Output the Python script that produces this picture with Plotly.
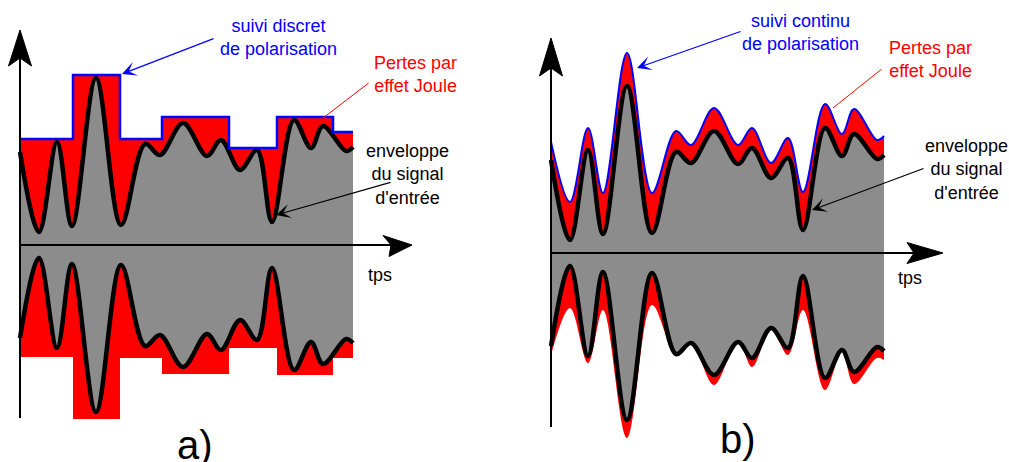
import plotly.graph_objects as go

# enveloppe du signal d'entree (meme allure pour a) et b))
t_env = [0, 1.9, 3.7, 5.2, 7.6, 10.1, 12.5, 14.0, 16.3, 18.7, 20.1, 22.0, 23.7, 25.2, 27.4, 29.1, 30.3, 32.6, 33.3]
enveloppe = [9.3, 1.3, 10.3, 1.9, 16.7, 2.0, 10.1, 9.0, 12.2, 8.9, 10.5, 7.5, 9.5, 2.3, 12.5, 9.7, 11.9, 9.4, 9.8]

# a) suivi discret de polarisation (paliers)
t_paliers = [0, 5.3, 10.0, 14.2, 20.9, 25.7, 31.3, 33.3]
paliers_haut = [10.6, 17.0, 10.6, 12.8, 9.7, 12.8, 11.3, 11.3]
paliers_bas = [11.2, 17.4, 11.3, 12.9, 10.3, 13.0, 11.3, 11.3]

# b) suivi continu de polarisation
polar_haut = [11.1, 5.1, 12.5, 6.0, 20.0, 6.0, 12.2, 10.8, 14.5, 10.8, 12.5, 9.0, 11.5, 6.1, 14.9, 11.9, 14.4, 11.3, 11.7]
polar_bas = [10.2, 5.5, 11.0, 5.7, 18.5, 5.2, 10.1, 9.0, 13.2, 8.7, 11.4, 7.7, 10.2, 5.7, 13.7, 9.9, 13.1, 10.5, 10.7]

ROUGE = "#ff0000"
BLEU = "#0000ff"
GRIS = "#8c8c8c"
FONT = "Liberation Sans, Arial, sans-serif"

fig = go.Figure()


def trace(x, y, xa, ya, shape="spline", width=0, color="black", fill=None, fillcolor=None):
    fig.add_trace(go.Scatter(
        x=x, y=y, xaxis=xa, yaxis=ya, mode="lines",
        line=dict(shape=shape, width=width, color=color, smoothing=1.0),
        fill=fill, fillcolor=fillcolor, showlegend=False, hoverinfo="skip",
    ))


moins_env = [-v for v in enveloppe]

# --- panneau a)
trace(t_paliers, [-v for v in paliers_bas], "x", "y", shape="hv")
trace(t_paliers, paliers_haut, "x", "y", shape="hv", fill="tonexty", fillcolor=ROUGE)
trace(t_env, moins_env, "x", "y")
trace(t_env, enveloppe, "x", "y", fill="tonexty", fillcolor=GRIS)
trace(t_env, enveloppe, "x", "y", width=4.5)
trace(t_env, moins_env, "x", "y", width=4.5)
trace(t_paliers, paliers_haut, "x", "y", shape="hv", width=2.5, color=BLEU)

# --- panneau b)
trace(t_env, [-v for v in polar_bas], "x2", "y2")
trace(t_env, polar_haut, "x2", "y2", fill="tonexty", fillcolor=ROUGE)
trace(t_env, moins_env, "x2", "y2")
trace(t_env, enveloppe, "x2", "y2", fill="tonexty", fillcolor=GRIS)
trace(t_env, enveloppe, "x2", "y2", width=4.5)
trace(t_env, moins_env, "x2", "y2", width=4.5)
trace(t_env, polar_haut, "x2", "y2", width=2, color=BLEU)

# axes dessines (fleches)
shapes = []
annotations = []
panneaux = [
    ("x", "y", -17.3, 21.5, 39.2, "M0,0 L11.5,-36 L0,-28 L-11.5,-36 Z", "M0,0 L-29,9.5 L-21,0 L-23,-11.5 Z"),
    ("x2", "y2", -17.4, 21.5, 39.2, "M0,0 L11.5,-38 L0,-30 L-11.5,-38 Z", "M0,0 L-36,10.5 L-29,0 L-36,-10.5 Z"),
]
for xr, yr, ybas, yhaut, xfin, tete_y, tete_x in panneaux:
    shapes.append(dict(type="line", xref=xr, yref=yr, x0=0, x1=0, y0=ybas, y1=yhaut - 2,
                       line=dict(color="black", width=2)))
    shapes.append(dict(type="line", xref=xr, yref=yr, x0=0, x1=xfin - 2, y0=0, y1=0,
                       line=dict(color="black", width=2)))
    shapes.append(dict(type="path", xref=xr, yref=yr, xsizemode="pixel", ysizemode="pixel",
                       xanchor=0, yanchor=yhaut, path=tete_y, fillcolor="black",
                       line=dict(color="black", width=1)))
    shapes.append(dict(type="path", xref=xr, yref=yr, xsizemode="pixel", ysizemode="pixel",
                       xanchor=xfin, yanchor=0, path=tete_x, fillcolor="black",
                       line=dict(color="black", width=1)))


def texte(xr, yr, x, y, txt, color, size=18):
    annotations.append(dict(xref=xr, yref=yr, x=x, y=y, text=txt, showarrow=False,
                            xanchor="center", yanchor="middle", align="center",
                            font=dict(family=FONT, size=size, color=color)))


def fleche(xr, yr, x0, y0, x1, y1, color, head=3, width=1.2):
    annotations.append(dict(xref=xr, yref=yr, axref=xr, ayref=yr, x=x1, y=y1, ax=x0, ay=y0,
                            text="", showarrow=True, arrowhead=head, arrowsize=2 if head else 1,
                            arrowwidth=width, arrowcolor=color, standoff=0, startstandoff=0))


texte("x", "y", 25.85, 20.8, "suivi discret<br>de polarisation", BLEU)
texte("x", "y", 39.5, 17.05, "Pertes par<br>effet Joule", ROUGE)
texte("x", "y", 38.7, 7.1, "enveloppe<br>du signal<br>d'entrée", "black")
texte("x", "y", 36.0, -3.0, "tps", "black")
texte("x", "y", 17.5, -20.0, "a)", "black", size=40)
fleche("x", "y", 19.5, 20.7, 10.2, 17.1, BLEU)
fleche("x", "y", 35.0, 16.3, 30.3, 12.7, ROUGE, head=0, width=1)
fleche("x", "y", 37.2, 6.3, 25.6, 3.0, "black")

texte("x2", "y2", 24.9, 22.1, "suivi continu<br>de polarisation", BLEU)
texte("x2", "y2", 37.9, 19.35, "Pertes par<br>effet Joule", ROUGE)
texte("x2", "y2", 41.5, 8.4, "enveloppe<br>du signal<br>d'entrée", "black")
texte("x2", "y2", 35.9, -2.5, "tps", "black")
texte("x2", "y2", 18.7, -18.6, "b)", "black", size=40)
fleche("x2", "y2", 19.1, 22.2, 8.6, 18.5, BLEU)
fleche("x2", "y2", 33.2, 18.5, 28.2, 14.5, ROUGE, head=0, width=1)
fleche("x2", "y2", 37.4, 8.5, 26.1, 4.3, "black")

W, H = 1009, 462
cut = 500
fig.update_layout(
    width=W, height=H,
    margin=dict(l=0, r=0, t=0, b=0),
    paper_bgcolor="white", plot_bgcolor="white",
    xaxis=dict(domain=[0, cut / W], range=[(0 - 20) / 10, (cut - 20) / 10], visible=False, anchor="y"),
    yaxis=dict(domain=[0, 1], range=[(245 - H) / 10, 245 / 10], visible=False, anchor="x"),
    xaxis2=dict(domain=[cut / W, 1], range=[(cut - 551) / 10, (W - 551) / 10], visible=False, anchor="y2"),
    yaxis2=dict(domain=[0, 1], range=[(253 - H) / 10, 253 / 10], visible=False, anchor="x2"),
    shapes=shapes,
    annotations=annotations,
)

# la page html a une marge de 8px par defaut : on la retire
fig.write_html("out.html", config={"displayModeBar": False},
               post_script="document.body.style.margin='0';")
